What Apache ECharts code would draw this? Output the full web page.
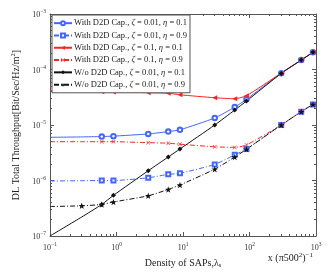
<!DOCTYPE html>
<html>
<head>
<meta charset="utf-8">
<script src="https://cdn.jsdelivr.net/npm/echarts@6/dist/echarts.min.js"></script>
<style>html,body{margin:0;padding:0;background:#fff}#c{width:332px;height:279px}</style>
</head>
<body>
<div id="c"></div>
<script>
// ---- data ----
var xValues = [0.1, 0.3, 0.6, 0.9, 3, 6, 9, 30, 60, 90, 300, 600, 900];
var withZ001Eta01 = [6.0e-6, 6.1e-6, 6.2e-6, 6.3e-6, 6.9e-6, 7.6e-6, 8.2e-6, 1.34e-5, 2.1e-5, 2.9e-5, 8.6e-5, 1.48e-4, 2.04e-4];
var withZ001Eta09 = [9.8e-7, 9.9e-7, 1.0e-6, 1.0e-6, 1.12e-6, 1.29e-6, 1.35e-6, 1.95e-6, 2.9e-6, 3.7e-6, 1.0e-5, 1.74e-5, 2.35e-5];
var withZ01Eta01 = [4.15e-5, 4.05e-5, 3.98e-5, 3.95e-5, 3.82e-5, 3.73e-5, 3.5e-5, 3.1e-5, 2.97e-5, 3.37e-5, 8.6e-5, 1.48e-4, 2.04e-4];
var withZ01Eta09 = [5.0e-6, 5.0e-6, 5.0e-6, 5.0e-6, 4.8e-6, 4.7e-6, 4.5e-6, 4.05e-6, 3.95e-6, 4.37e-6, 1.0e-5, 1.74e-5, 2.35e-5];
var woZ001Eta01 = [1.0e-7, 2.2e-7, 3.7e-7, 5.4e-7, 1.5e-6, 2.65e-6, 3.7e-6, 1.0e-5, 1.86e-5, 2.7e-5, 8.5e-5, 1.48e-4, 2.04e-4];
var woZ001Eta09 = [3.4e-7, 3.5e-7, 3.7e-7, 4.1e-7, 5.3e-7, 6.9e-7, 8.3e-7, 1.6e-6, 2.65e-6, 3.65e-6, 1.0e-5, 1.74e-5, 2.35e-5];
var seriesNames = [
  'With D2D Cap., ζ = 0.01, η = 0.1',
  'With D2D Cap., ζ = 0.01, η = 0.9',
  'With D2D Cap., ζ = 0.1, η = 0.1',
  'With D2D Cap., ζ = 0.1, η = 0.9',
  'W/o D2D Cap., ζ = 0.01, η = 0.1',
  'W/o D2D Cap., ζ = 0.01, η = 0.9'
];
var xTickValues = [0.1, 1, 10, 100, 1000];
var yTickValues = [1e-7, 1e-6, 1e-5, 1e-4, 1e-3];

var serif = '"Liberation Serif","DejaVu Serif",serif';
var BLUE = '#4466ff', RED = '#ff2222', BLACK = '#111111';
var STAR = 'path://M0,-10 L2.35,-3.09 L9.51,-3.09 L3.80,1.18 L5.88,8.09 L0,3.82 L-5.88,8.09 L-3.80,1.18 L-9.51,-3.09 L-2.35,-3.09 Z';
var XMARK = 'path://M0,1 L1,0 L5,4 L9,0 L10,1 L6,5 L10,9 L9,10 L5,6 L1,10 L0,9 L4,5 Z';
var DASHDOT = [5, 2, 1, 2];

function buildData(vals, firstMarker) {
  return xValues.map(function (x, i) {
    var d = { value: [x, vals[i]] };
    if (i < firstMarker) d.symbol = 'none';
    return d;
  });
}
function sup(v) {
  var e = Math.round(Math.log10(v));
  return '{b|10}{s|' + (e < 0 ? '−' + (-e) : e) + '}';
}
var tickRich = {
  b: { fontFamily: serif, fontSize: 8, color: '#333', verticalAlign: 'bottom', lineHeight: 10 },
  s: { fontFamily: serif, fontSize: 5.5, color: '#333', verticalAlign: 'top', lineHeight: 10, padding: [0, 0, 5, 0] }
};

var defs = [
  { vals: withZ001Eta01, color: BLUE, type: 'solid', symbol: 'emptyCircle', size: 4.5, bw: 1, first: 2 },
  { vals: withZ001Eta09, color: BLUE, type: DASHDOT, symbol: 'emptyRect', size: 4, bw: 1.2, first: 2 },
  { vals: withZ01Eta01, color: RED, type: 'solid', symbol: 'triangle', size: 5, bw: 0, rotate: 90, first: 2 },
  { vals: withZ01Eta09, color: RED, type: DASHDOT, symbol: XMARK, size: 4, bw: 0, first: 2 },
  { vals: woZ001Eta01, color: BLACK, type: 'solid', symbol: 'diamond', size: 5, bw: 0, first: 2 },
  { vals: woZ001Eta09, color: BLACK, type: DASHDOT, symbol: STAR, size: 6.5, bw: 0, first: 1 }
];

var series = defs.map(function (d, i) {
  return {
    name: seriesNames[i],
    type: 'line',
    xAxisIndex: 0, yAxisIndex: 0,
    data: buildData(d.vals, d.first),
    smooth: 0.2,
    symbol: d.symbol,
    symbolSize: d.size,
    symbolRotate: d.rotate || 0,
    showAllSymbol: true,
    lineStyle: { color: d.color, width: 1, type: d.type },
    itemStyle: { color: d.color, borderColor: d.color, borderWidth: d.bw },
    emphasis: { disabled: true },
    animation: false
  };
});

function logAxis(base, extra) {
  var a = {
    type: 'log', logBase: 10,
    axisLine: { show: true, onZero: false, lineStyle: { color: '#555', width: 1 } },
    axisTick: { show: true, inside: true, length: 4, lineStyle: { color: '#555' } },
    minorTick: { show: true, splitNumber: 9, length: 2, lineStyle: { color: '#555' } },
    splitLine: { show: false },
    minorSplitLine: { show: false }
  };
  for (var k in base) a[k] = base[k];
  for (var k2 in extra) a[k2] = extra[k2];
  return a;
}

var option = {
  backgroundColor: '#fff',
  animation: false,
  grid: { left: 50, right: 16, top: 14, bottom: 43, containLabel: false },
  title: [{
    text: 'x (π500{sup|2}){sup|−1}',
    right: 14, top: 247,
    textStyle: {
      fontFamily: serif, fontSize: 10, fontWeight: 'normal', color: '#222',
      rich: {
        sup: { fontFamily: serif, fontSize: 7, verticalAlign: 'top', padding: [0, 0, 6, 0], color: '#222' }
      }
    }
  }],
  legend: {
    orient: 'vertical',
    left: 52, top: 15,
    padding: [2, 3, 2, 1],
    itemWidth: 18, itemHeight: 5, itemGap: 0,
    backgroundColor: '#fff',
    borderColor: '#555', borderWidth: 1,
    selectedMode: false,
    formatter: function (n) {
      return n.replace('ζ', '{i|ζ}').replace('η', '{i|η}');
    },
    textStyle: {
      fontFamily: serif, fontSize: 8.5, color: '#222', lineHeight: 12.3, padding: [0, 0, 0, -3],
      rich: { i: { fontFamily: serif, fontStyle: 'italic', fontSize: 8.5, color: '#222' } }
    },
    data: seriesNames
  },
  xAxis: [
    logAxis({ min: 0.1, max: 1000, position: 'bottom' }, {
      axisLabel: {
        show: true, margin: 6, formatter: sup, rich: tickRich,
        customValues: xTickValues
      },
      name: 'Density of SAPs,λ{sub|s}',
      nameLocation: 'middle', nameGap: 15,
      nameTextStyle: {
        fontFamily: serif, fontSize: 10, color: '#222',
        rich: { sub: { fontFamily: serif, fontSize: 6.5, verticalAlign: 'bottom', padding: [4, 0, 0, 0], color: '#222' } }
      }
    }),
    logAxis({ min: 0.1, max: 1000, position: 'top' }, { axisLabel: { show: false } })
  ],
  yAxis: [
    logAxis({ min: 1e-7, max: 1e-3, position: 'left' }, {
      axisLabel: { show: true, margin: 4, formatter: sup, rich: tickRich, customValues: yTickValues },
      name: 'DL Total Throughput[Bit/Sec/Hz/m{sup|2}]',
      nameLocation: 'middle', nameGap: 19, nameRotate: 90,
      nameTextStyle: {
        fontFamily: serif, fontSize: 10, color: '#222',
        rich: { sup: { fontFamily: serif, fontSize: 6.5, verticalAlign: 'top', padding: [0, 0, 5, 0], color: '#222' } }
      }
    }),
    logAxis({ min: 1e-7, max: 1e-3, position: 'right' }, { axisLabel: { show: false } })
  ],
  series: series
};

var chart = echarts.init(document.getElementById('c'), null, { renderer: 'canvas' });
chart.setOption(option);
</script>
</body>
</html>
